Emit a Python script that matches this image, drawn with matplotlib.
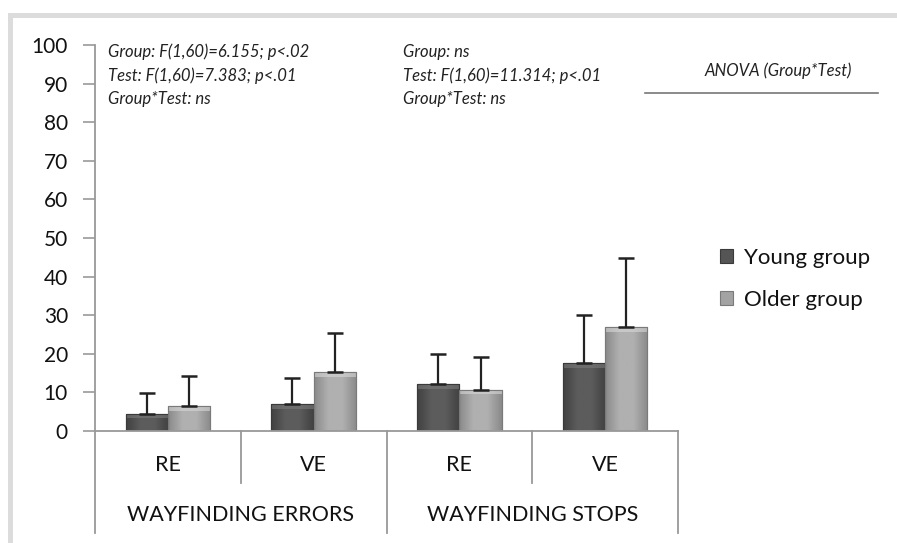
import matplotlib
matplotlib.use("Agg")
import matplotlib.pyplot as plt
import numpy as np
from matplotlib.lines import Line2D
from matplotlib.patches import Rectangle
from matplotlib.colors import LinearSegmentedColormap

conditions = ["RE", "VE", "RE", "VE"]
groups = ["WAYFINDING ERRORS", "WAYFINDING STOPS"]
series_names = ["Young group", "Older group"]
young = [4.4, 7.0, 12.2, 17.6]
older = [6.5, 15.3, 10.7, 26.9]
young_err = [5.4, 6.7, 7.7, 12.5]
older_err = [7.7, 10.1, 8.6, 17.8]
yticks = [0, 10, 20, 30, 40, 50, 60, 70, 80, 90, 100]
anova_left = ["Group: F(1,60)=6.155; p<.02", "Test: F(1,60)=7.383; p<.01", "Group*Test: ns"]
anova_right = ["Group: ns", "Test: F(1,60)=11.314; p<.01", "Group*Test: ns"]
anova_title = "ANOVA (Group*Test)"

plt.rcParams['font.family'] = ['Lato', 'DejaVu Sans']

W, H = 897, 543
fig = plt.figure(figsize=(W/100, H/100), dpi=100)

# chart-area frame (top and left gray bands)
fig.patches.append(Rectangle((8/W, 0), 5/W, 1 - 13/H, transform=fig.transFigure,
                             facecolor="#dcdcdc", edgecolor="none"))
fig.patches.append(Rectangle((8/W, 1 - 18/H), 1 - 8/W, 5/H, transform=fig.transFigure,
                             facecolor="#dcdcdc", edgecolor="none"))

left, right = 95/W, 678/W
bottom, top = 1 - 431/H, 1 - 45/H
ax = fig.add_axes([left, bottom, right - left, top - bottom])

x = np.arange(len(conditions))
bw = 0.29
c_young = "#555555"
c_old = "#a3a3a3"
bars_y = ax.bar(x - bw/2, young, bw, color=c_young, edgecolor="#3a3a3a", linewidth=0.8,
                zorder=2, label=series_names[0])
bars_o = ax.bar(x + bw/2, older, bw, color=c_old, edgecolor="#7a7a7a", linewidth=0.8,
                zorder=2, label=series_names[1])

# subtle shading inside bars (horizontal gradient + lighter top)
def shade(bars, edge, mid, topc):
    cmap = LinearSegmentedColormap.from_list("g", [edge, mid, mid, edge])
    grad = np.tile(np.linspace(0, 1, 64), (32, 1))
    for b in bars:
        x0, y0 = b.get_x(), b.get_y()
        w, h = b.get_width(), b.get_height()
        im = ax.imshow(grad, cmap=cmap, extent=[x0, x0 + w, y0, y0 + h], aspect="auto",
                       zorder=2.1, interpolation="bilinear")
        im.set_clip_path(b)
        # top bevel band
        ax.add_patch(Rectangle((x0, y0 + h - min(1.2, h*0.25)), w, min(1.2, h*0.25),
                               facecolor=topc, edgecolor="none", alpha=0.6, zorder=2.2))
        ax.add_patch(Rectangle((x0, y0), w, h, facecolor="none",
                               edgecolor=b.get_edgecolor(), lw=0.8, zorder=2.3))

shade(bars_y, "#414141", "#5c5c5c", "#7a7a7a")
shade(bars_o, "#8a8a8a", "#b0b0b0", "#d8d8d8")
ax.set_aspect("auto")

ax.errorbar(x - bw/2, young, yerr=[np.zeros(len(young)), young_err], fmt="none",
            ecolor="#222222", elinewidth=1.6, capsize=6, capthick=1.8, zorder=3)
ax.errorbar(x + bw/2, older, yerr=[np.zeros(len(older)), older_err], fmt="none",
            ecolor="#222222", elinewidth=1.6, capsize=6, capthick=1.8, zorder=3)

ax.set_xlim(-0.5, len(conditions) - 0.5)
ax.set_ylim(0, 100)
ax.set_yticks(yticks)
ax.tick_params(axis="y", direction="out", length=8.5, width=1.2, color="#999999",
               labelsize=15, labelcolor="#111111", pad=11)
ax.set_xticks([])
for s in ["top", "right"]:
    ax.spines[s].set_visible(False)
ax.spines["left"].set_color("#999999")
ax.spines["left"].set_linewidth(1.3)
ax.spines["bottom"].set_color("#999999")
ax.spines["bottom"].set_linewidth(1.3)

# category separators and labels below axis
tr = ax.get_xaxis_transform()
def yfig(py):
    return (431 - py) / (431 - 45)
for b in np.arange(-0.5, len(conditions), 1.0):
    major = abs((b + 0.5) % 2) < 1e-9
    ax.add_line(Line2D([b, b], [0, yfig(533 if major else 483)], transform=tr,
                       color="#999999", lw=1.3, clip_on=False))
for i, c in enumerate(conditions):
    ax.text(i, yfig(465), c, transform=tr, ha="center", va="center", fontsize=15.5,
            color="#111111")
for j, g in enumerate(groups):
    ax.text(2*j + 0.5, yfig(515), g, transform=tr, ha="center", va="center", fontsize=15.5,
            color="#111111")

# ANOVA annotations
for k, t in enumerate(anova_left):
    fig.text(108/W, 1 - (52 + 23.5*k)/H, t, fontsize=12, style="italic", color="#222222",
             va="center", ha="left")
for k, t in enumerate(anova_right):
    fig.text(403/W, 1 - (52 + 23.5*k)/H, t, fontsize=12, style="italic", color="#222222",
             va="center", ha="left")
fig.text(778/W, 1 - 71/H, anova_title, fontsize=12, style="italic", color="#222222",
         va="center", ha="center")
fig.add_artist(Line2D([645/W, 878/W], [1 - 93/H, 1 - 93/H], transform=fig.transFigure,
                      color="#777777", lw=1.2))

# legend
leg = fig.legend(handles=[bars_y, bars_o], labels=series_names, loc="center left",
                 bbox_to_anchor=(700/W, 1 - 279/H), frameon=False,
                 fontsize=16, handlelength=0.6, handleheight=0.6, handletextpad=0.5,
                 labelspacing=1.0)
for txt in leg.get_texts():
    txt.set_color("#111111")

fig.savefig("out.png", dpi=100)
